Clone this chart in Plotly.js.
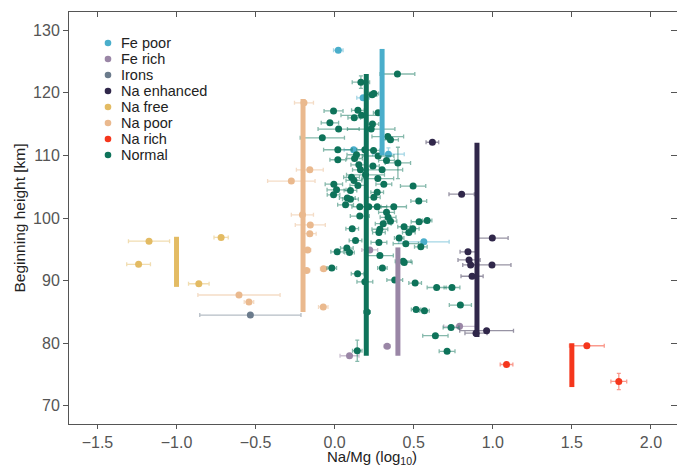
<!DOCTYPE html>
<html>
<head>
<meta charset="utf-8">
<script src="https://cdn.plot.ly/plotly-3.0.1.min.js"></script>
<style>html,body{margin:0;padding:0;background:#fff;}#chart{width:677px;height:468px;}</style>
</head>
<body>
<div id="chart"></div>
<script>
// ---- Data (Na/Mg log10, beginning height km, x error, y error) ----
const classNames = ["Fe poor","Fe rich","Irons","Na enhanced","Na free","Na poor","Na rich","Normal"];
const classColors = ["#4aaecb","#9a86a6","#6b7b8c","#30274a","#e3bb63","#eab98e","#f5361c","#0e735a"];

const fePoorX = [0.023, 0.18, 0.12, 0.34, 0.564];
const fePoorY = [126.8, 119.2, 110.9, 110.2, 96.2];
const fePoorXe = [0.03, 0.04, 0.06, 0.1, 0.16];
const fePoorYe = [0, 0, 0, 1.0, 0];

const feRichX = [0.222, 0.094, 0.332, 0.79];
const feRichY = [94.9, 78.0, 79.5, 82.7];
const feRichXe = [0.05, 0.06, 0.02, 0.1];
const feRichYe = [0, 0, 0, 0];

const ironsX = [-0.533];
const ironsY = [84.5];
const ironsXe = [0.32];
const ironsYe = [0];

const naEnhX = [0.618, 0.803, 0.997, 0.843, 0.85, 0.86, 0.995, 0.869, 0.961, 0.894];
const naEnhY = [112.1, 103.8, 96.8, 94.6, 93.3, 92.5, 92.5, 90.7, 82.0, 81.6];
const naEnhXe = [0.04, 0.08, 0.1, 0.05, 0.07, 0.05, 0.12, 0.07, 0.17, 0.07];
const naEnhYe = [0, 0, 0, 0, 0, 0, 0, 0, 0, 0];

const naFreeX = [-1.174, -1.24, -0.718, -0.859];
const naFreeY = [96.3, 92.6, 96.9, 89.5];
const naFreeXe = [0.13, 0.075, 0.045, 0.065];
const naFreeYe = [0, 0, 0, 0];

const naPoorX = [-0.605, -0.542, -0.072, -0.07, -0.154, -0.157, -0.171, -0.177, -0.194, -0.157, -0.274, -0.204];
const naPoorY = [87.7, 86.6, 85.8, 91.9, 98.9, 97.5, 94.9, 91.6, 118.4, 107.7, 105.9, 100.5];
const naPoorXe = [0.26, 0.03, 0.03, 0.02, 0.095, 0.04, 0.02, 0.02, 0.06, 0.085, 0.15, 0.07];
const naPoorYe = [0, 0, 0, 0, 0, 0, 0, 0, 0, 0, 0, 0];

const naRichX = [1.595, 1.087, 1.797];
const naRichY = [79.6, 76.6, 73.9];
const naRichXe = [0.11, 0.04, 0.05];
const naRichYe = [0, 0, 1.3];

const normalX = [0.397, 0.166, 0.248, 0.237, -0.007, 0.147, 0.17, 0.124, 0.275, -0.03,
  0.025, 0.239, 0.231, -0.078, 0.336, 0.353, 0.02, 0.191, 0.246, 0.138,
  0.126, 0.275, 0.02, 0.328, 0.4, 0.153, 0.242, 0.3, 0.163, 0.195,
  0.107, 0.122, 0.273, 0.147, 0.311, 0.496, -0.005, 0.1, 0.012, -0.007,
  0.269, 0.532, 0.248, 0.08, 0.1, 0.069, 0.159, 0.374, 0.269, 0.216,
  0.328, 0.159, 0.338, 0.353, 0.307, 0.439, 0.534, 0.585, 0.494, 0.469,
  0.286, 0.28, 0.111, 0.408, 0.132, 0.28, 0.45, 0.545, 0.077, 0.016,
  0.094, 0.286, 0.433, 0.44, -0.018, 0.302, 0.145, 0.38, 0.191, 0.509,
  0.645, 0.742, 0.515, 0.568, 0.795, 0.637, 0.736, 0.711, 0.143, 0.205];
const normalY = [123.0, 121.7, 119.9, 119.7, 117.1, 117.2, 116.4, 116.0, 116.8, 115.2,
  114.2, 115.0, 114.2, 112.8, 113.0, 112.5, 110.9, 110.9, 110.8, 110.1,
  109.5, 109.9, 109.3, 109.2, 108.8, 108.5, 108.3, 107.7, 107.7, 106.9,
  106.5, 106.0, 106.3, 105.2, 105.4, 105.1, 105.4, 104.4, 104.5, 103.7,
  104.1, 102.7, 103.3, 103.2, 103.0, 102.1, 101.8, 101.8, 101.8, 101.8,
  100.9, 100.3, 100.1, 99.5, 99.1, 98.6, 99.4, 99.6, 98.3, 97.7,
  98.2, 97.7, 98.3, 96.8, 96.4, 96.1, 95.9, 95.4, 95.2, 94.6,
  94.5, 94.0, 93.1, 92.9, 92.0, 92.0, 91.1, 90.1, 89.8, 89.6,
  88.9, 88.9, 85.4, 85.2, 86.1, 81.2, 82.5, 78.7, 78.8, 85.0];
const normalXe = [0.11, 0.055, 0.03, 0.03, 0.06, 0.04, 0.13, 0.04, 0.03, 0.055,
  0.13, 0.04, 0.15, 0.14, 0.1, 0.05, 0.09, 0.05, 0.04, 0.06,
  0.05, 0.1, 0.05, 0.05, 0.08, 0.05, 0.04, 0.13, 0.05, 0.12,
  0.05, 0.05, 0.1, 0.05, 0.05, 0.08, 0.055, 0.04, 0.06, 0.04,
  0.04, 0.05, 0.04, 0.05, 0.05, 0.05, 0.05, 0.08, 0.06, 0.05,
  0.05, 0.06, 0.05, 0.04, 0.05, 0.04, 0.05, 0.03, 0.04, 0.04,
  0.05, 0.04, 0.04, 0.03, 0.04, 0.05, 0.08, 0.04, 0.04, 0.04,
  0.03, 0.085, 0.05, 0.05, 0.03, 0.03, 0.04, 0.05, 0.05, 0.04,
  0.06, 0.05, 0.03, 0.03, 0.07, 0.08, 0.05, 0.05, 0.03, 0.02];
const normalYe = [0, 1.0, 0, 0, 0, 0, 0, 0, 0, 0,
  0, 0, 0, 0, 0, 0, 0, 0, 0, 0,
  0, 0, 0, 0, 2.5, 0, 0, 0, 0, 0,
  0, 0, 0, 0, 0, 0, 0, 0, 0, 0,
  0, 0, 0, 0, 0, 0, 0, 0, 0, 0,
  0, 0, 0, 0, 0, 0, 0, 0, 0, 0,
  0, 0, 0, 0, 0, 0, 0, 0, 0, 0,
  0, 0, 0, 0, 0, 0, 0, 0, 0, 0,
  0, 0, 0, 0, 0, 0, 0, 0, 1.7, 0];

// class reference bars: x position, low and high height
const barX = [0.3, 0.4, null, 0.9, -1.0, -0.2, 1.5, 0.2];
const barLow = [110, 78, null, 81, 89, 85, 73, 78];
const barHigh = [127, 95.3, null, 112, 97, 119, 80, 123];

const xTicks = [-1.5, -1.0, -0.5, 0.0, 0.5, 1.0, 1.5, 2.0];
const yTicks = [70, 80, 90, 100, 110, 120, 130];
const xRange = [-1.68, 2.165];
const yRange = [67.1, 132.9];
const xTitle = 'Na/Mg (log<sub>10</sub>)';
const yTitle = 'Beginning height [km]';

const series = [
  [fePoorX, fePoorY, fePoorXe, fePoorYe],
  [feRichX, feRichY, feRichXe, feRichYe],
  [ironsX, ironsY, ironsXe, ironsYe],
  [naEnhX, naEnhY, naEnhXe, naEnhYe],
  [naFreeX, naFreeY, naFreeXe, naFreeYe],
  [naPoorX, naPoorY, naPoorXe, naPoorYe],
  [naRichX, naRichY, naRichXe, naRichYe],
  [normalX, normalY, normalXe, normalYe]
];

function rgba(hex, a) {
  const r = parseInt(hex.slice(1,3),16), g = parseInt(hex.slice(3,5),16), b = parseInt(hex.slice(5,7),16);
  return `rgba(${r},${g},${b},${a})`;
}

const traces = [];
series.forEach((s, i) => {
  const c = classColors[i];
  traces.push({
    type: 'scatter', mode: 'markers', name: classNames[i],
    x: s[0], y: s[1],
    marker: {color: c, size: 7, line: {width: 0}},
    error_x: {type: 'data', array: s[2], visible: true, color: rgba(c, 0.5), thickness: 1.3, width: 2},
    error_y: {type: 'data', array: s[3], visible: true, color: rgba(c, 0.5), thickness: 1.3, width: 2},
    showlegend: false
  });
});
barX.forEach((bx, i) => {
  if (bx === null) return;
  traces.push({
    type: 'scatter', mode: 'lines', x: [bx, bx], y: [barLow[i], barHigh[i]],
    line: {color: classColors[i], width: 5}, showlegend: false, hoverinfo: 'skip'
  });
});
// invisible helper trace for the mirrored top/right axes
traces.push({type:'scatter', mode:'markers', x:[xRange[0]], y:[yRange[0]], xaxis:'x2', yaxis:'y2', marker:{opacity:0}, showlegend:false, hoverinfo:'skip'});

const fontFam = '"Liberation Sans", Arial, sans-serif';

// compact legend (matplotlib-like spacing) drawn as shapes + annotations
const plotL = 69, plotT = 12, plotW = 608, plotH = 412;
const legMarkX = 108, legTextX = 119, legTop = 43, legStep = 16;
const px2x = p => (p - plotL) / plotW;
const py2y = p => 1 - (p - plotT) / plotH;
const shapes = [], annotations = [];
classNames.forEach((nm, i) => {
  const cy = legTop + legStep * i;
  shapes.push({type: 'circle', xref: 'paper', yref: 'paper',
    x0: px2x(legMarkX - 3.3), x1: px2x(legMarkX + 3.3), y0: py2y(cy + 3.3), y1: py2y(cy - 3.3),
    fillcolor: classColors[i], line: {width: 0}});
  annotations.push({xref: 'paper', yref: 'paper', x: px2x(legTextX), y: py2y(cy),
    xanchor: 'left', yanchor: 'middle', showarrow: false, text: nm,
    font: {family: fontFam, size: 14.5, color: '#222'}});
});
// x axis title placed as an annotation just below the tick labels
annotations.push({xref: 'paper', yref: 'paper', x: px2x(372), y: py2y(467.5),
  xanchor: 'center', yanchor: 'bottom', showarrow: false, text: xTitle, borderpad: 0,
  font: {family: fontFam, size: 15, color: '#222'}});

const axisCommon = {
  showgrid: false, zeroline: false, showline: true, linecolor: '#555', linewidth: 1,
  ticks: 'outside', ticklen: 4, tickcolor: '#555', tickwidth: 1,
  tickfont: {family: fontFam, size: 16, color: '#555'}
};

const layout = {
  width: 677, height: 468,
  margin: {l: plotL, r: 0, t: plotT, b: 44},
  paper_bgcolor: '#fff', plot_bgcolor: '#fff',
  font: {family: fontFam, color: '#222'},
  showlegend: false,
  shapes: shapes,
  annotations: annotations,
  xaxis: Object.assign({}, axisCommon, {
    range: xRange, tickvals: xTicks, tickformat: '.1f', automargin: false
  }),
  yaxis: Object.assign({}, axisCommon, {
    range: yRange, tickvals: yTicks, automargin: false, ticklen: 5,
    title: {text: yTitle, font: {family: fontFam, size: 15.5, color: '#222'}, standoff: 3}
  }),
  xaxis2: {overlaying: 'x', side: 'top', range: xRange, tickvals: xTicks, showticklabels: false,
           ticks: 'inside', ticklen: 5, tickcolor: '#555', showline: true, linecolor: '#555', linewidth: 1,
           showgrid: false, zeroline: false},
  yaxis2: {overlaying: 'y', side: 'right', range: yRange, tickvals: yTicks, showticklabels: false,
           ticks: 'inside', ticklen: 6, tickcolor: '#555', showline: false,
           showgrid: false, zeroline: false}
};

Plotly.newPlot('chart', traces, layout, {displayModeBar: false, staticPlot: true});
</script>
</body>
</html>
